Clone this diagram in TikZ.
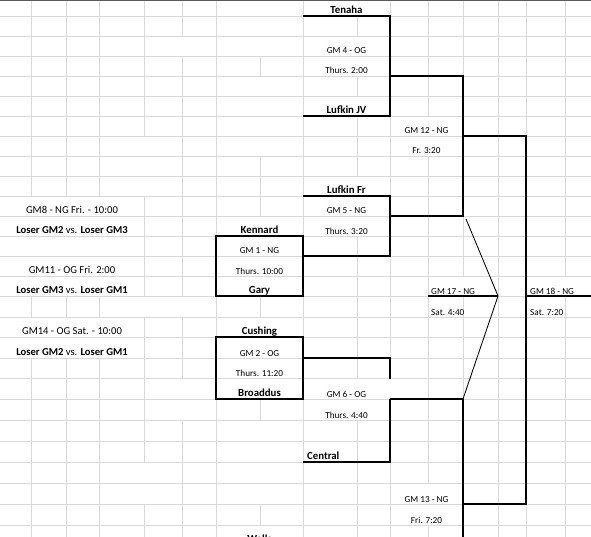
\documentclass[tikz,border=0pt]{standalone}
\usepackage{fontspec}
\setmainfont{Carlito}
\definecolor{gridgray}{HTML}{D9D9D9}
\definecolor{topgray}{HTML}{5A5A5A}
\begin{document}
\begin{tikzpicture}[x=1pt,y=-1pt,
  gridln/.style={draw=gridgray, line width=0.9pt},
  bline/.style={draw=black, line width=1.05pt, line join=miter},
  diag/.style={draw=black, line width=0.85pt},
  team/.style={font=\bfseries\fontsize{10.8}{12}\selectfont, anchor=base, inner sep=0pt},
  gm/.style={font=\fontsize{9.2}{11}\selectfont, anchor=base, inner sep=0pt},
  gmw/.style={gm, anchor=base west},
  note/.style={font=\fontsize{10.6}{12}\selectfont, anchor=base, inner sep=0pt}]
\useasboundingbox (0,0) rectangle (591,537);
\clip (0,0) rectangle (591,537);
\fill[white] (0,0) rectangle (591,537);
% horizontal grid lines
\foreach \yy in {16,36,56,76,96,116,136,156,176,196,216,236,256,276,296,317,337,358,378,399,420,441,462,483,504,525}
  \draw[gridln] (0,\yy) -- (591,\yy);
% vertical grid lines, row by row
\foreach \ya/\yb/\xs in {
  0/16/{31,66,99,144,182,216,303,390,428,463,498,526,565},
  16/36/{31,66,99,144,182,216,303,357,390,428,463,498,526,565},
  36/56/{31,66,99,144,216,303,390,428,463,498,526,565},
  56/76/{31,66,99,144,182,216,260,303,390,428,463,498,526,565},
  76/96/{31,66,99,144,182,216,303,357,390,428,463,498,526,565},
  96/116/{31,66,99,144,182,216,303,390,428,463,498,526,565},
  116/136/{31,66,99,144,182,216,303,357,390,463,498,526,565},
  136/156/{31,66,99,182,216,303,357,390,463,498,526,565},
  156/176/{31,66,99,182,216,260,303,357,390,428,463,498,526,565},
  176/196/{31,66,99,182,216,260,303,390,428,463,498,526,565},
  196/216/{144,182,216,260,303,390,428,463,498,526,565},
  216/236/{144,182,216,303,390,428,463,498,526,565},
  236/256/{144,182,216,303,357,390,428,463,498,526,565},
  256/276/{144,182,216,303,357,390,428,463,498,526,565},
  276/296/{144,182,216,303,357,390,428,498,526},
  296/317/{31,66,99,216,260,303,357,390,428,463,498,526,565},
  317/337/{144,182,216,303,357,390,428,463,498,526,565},
  337/358/{144,182,216,303,357,390,428,463,498,526,565},
  358/378/{31,66,99,144,182,216,303,357,390,428,463,498,526,565},
  378/399/{31,66,99,144,216,303,428,463,498,526,565},
  399/420/{31,66,99,144,216,260,303,390,428,463,498,526,565},
  420/441/{31,66,99,144,182,216,303,357,390,428,463,498,526,565},
  441/462/{31,66,99,144,182,216,303,357,390,428,463,498,526,565},
  462/483/{31,66,99,182,216,303,357,390,428,463,498,526,565},
  483/504/{31,66,99,182,216,303,357,390,463,498,526,565},
  504/525/{31,66,99,144,182,216,260,303,357,390,463,498,526,565},
  525/537/{31,66,99,144,182,216,303,357,390,428,463,498,526,565}}
  { \foreach \xx in \xs { \draw[gridln] (\xx,\ya) -- (\xx,\yb); } }
% top border
\draw[draw=topgray, line width=1.3pt] (0,0.6) -- (591,0.6);

% named corner coordinates of the bracket
\coordinate (g4a) at (303,16);   \coordinate (g4b) at (390,16);
\coordinate (g4c) at (390,116);  \coordinate (g4d) at (303,116);
\coordinate (g12a) at (390,76);  \coordinate (g12b) at (463,76);
\coordinate (g12c) at (463,216); \coordinate (g12d) at (390,216);
\coordinate (g18a) at (463,136); \coordinate (g18b) at (526,136);
\coordinate (g18c) at (526,504); \coordinate (g18d) at (463,504);
\coordinate (g5a) at (303,196);  \coordinate (g5b) at (390,196);
\coordinate (g5c) at (390,256);  \coordinate (g5d) at (303,256);
\coordinate (g1a) at (216,236);  \coordinate (g1c) at (303,296);
\coordinate (g2a) at (216,337);  \coordinate (g2c) at (303,399);
\coordinate (g6a) at (303,358);  \coordinate (g6b) at (390,358);
\coordinate (g6gap) at (390,378.5);
\coordinate (g6m) at (390,399);  \coordinate (g6c) at (390,462);
\coordinate (g6d) at (303,462);
\coordinate (g13a) at (463,399); \coordinate (g13b) at (463,537);
\coordinate (g17a) at (428,296); \coordinate (g17b) at (498,296);
\coordinate (d1) at (466,219);   \coordinate (d2) at (463,399);
\coordinate (g18e) at (526,296); \coordinate (g18f) at (591,296);

% bracket lines
\draw[bline] (g4a) -- (g4b) -- (g4c) -- (g4d);
\draw[bline] (g12a) -- (g12b) -- (g12c) -- (g12d);
\draw[bline] (g18a) -- (g18b) -- (g18c) -- (g18d);
\draw[bline] (g5a) -- (g5b) -- (g5c) -- (g5d);
\draw[bline] (g1a) rectangle (g1c);
\draw[bline] (g2a) rectangle (g2c);
\draw[bline] (g6a) -- (g6b) -- (g6gap);
\draw[bline] (g6m) -- (g6c) -- (g6d);
\draw[bline] (g6m) -- (g13a) -- (g13b);
\draw[bline] (g17a) -- (g17b);
\draw[diag] (d1) -- (g17b) -- (d2);
\draw[bline] (g18e) -- (g18f);

% texts
\node[team] (tenaha) at (346.5,13.5) {Tenaha};
\node[gm] (gm4) at (346.5,54) {GM 4 - OG};
\node[gm] (t4) at (346.5,74) {Thurs. 2:00};
\node[team] (lufjv) at (346.5,113.5) {Lufkin JV};
\node[gm] (gm12) at (426.5,134) {GM 12 - NG};
\node[gm] (t12) at (426.5,154) {Fr. 3:20};
\node[team] (luffr) at (346.5,193.5) {Lufkin Fr};
\node[gm] (gm5) at (346.5,214) {GM 5 - NG};
\node[gm] (t5) at (346.5,234) {Thurs. 3:20};
\node[note] (n8a) at (72,213.5) {GM8 - NG Fri. - 10:00};
\node[note] (n8b) at (72,233.5) {\textbf{Loser GM2} vs. \textbf{Loser GM3}};
\node[team] (kennard) at (259.5,233.5) {Kennard};
\node[gm] (gm1) at (259.5,254) {GM 1 - NG};
\node[gm] (t1) at (259.5,274) {Thurs. 10:00};
\node[note] (n11a) at (72,273.5) {GM11 - OG Fri. 2:00};
\node[team] (gary) at (259.5,293.5) {Gary};
\node[note] (n11b) at (72,293.5) {\textbf{Loser GM3} vs. \textbf{Loser GM1}};
\node[gmw] (gm17) at (431,294) {GM 17 - NG};
\node[gmw] (t17) at (431,315) {Sat. 4:40};
\node[gmw] (gm18) at (530,294) {GM 18 - NG};
\node[gmw] (t18) at (530,315) {Sat. 7:20};
\node[note] (n14a) at (72,334.5) {GM14 - OG Sat. - 10:00};
\node[team] (cushing) at (259.5,334.5) {Cushing};
\node[note] (n14b) at (72,355.5) {\textbf{Loser GM2} vs. \textbf{Loser GM1}};
\node[gm] (gm2) at (259.5,356) {GM 2 - OG};
\node[gm] (t2) at (259.5,376) {Thurs. 11:20};
\node[team] (broaddus) at (259.5,396.5) {Broaddus};
\node[gm] (gm6) at (346.5,397) {GM 6 - OG};
\node[gm] (t6) at (346.5,418) {Thurs. 4:40};
\node[team, anchor=base west] (central) at (307,459.5) {Central};
\node[gm] (gm13) at (426.5,502) {GM 13 - NG};
\node[gm] (t13) at (426.5,523) {Fri. 7:20};
\node[team] (wells) at (259.5,542) {Wells};
\end{tikzpicture}
\end{document}
